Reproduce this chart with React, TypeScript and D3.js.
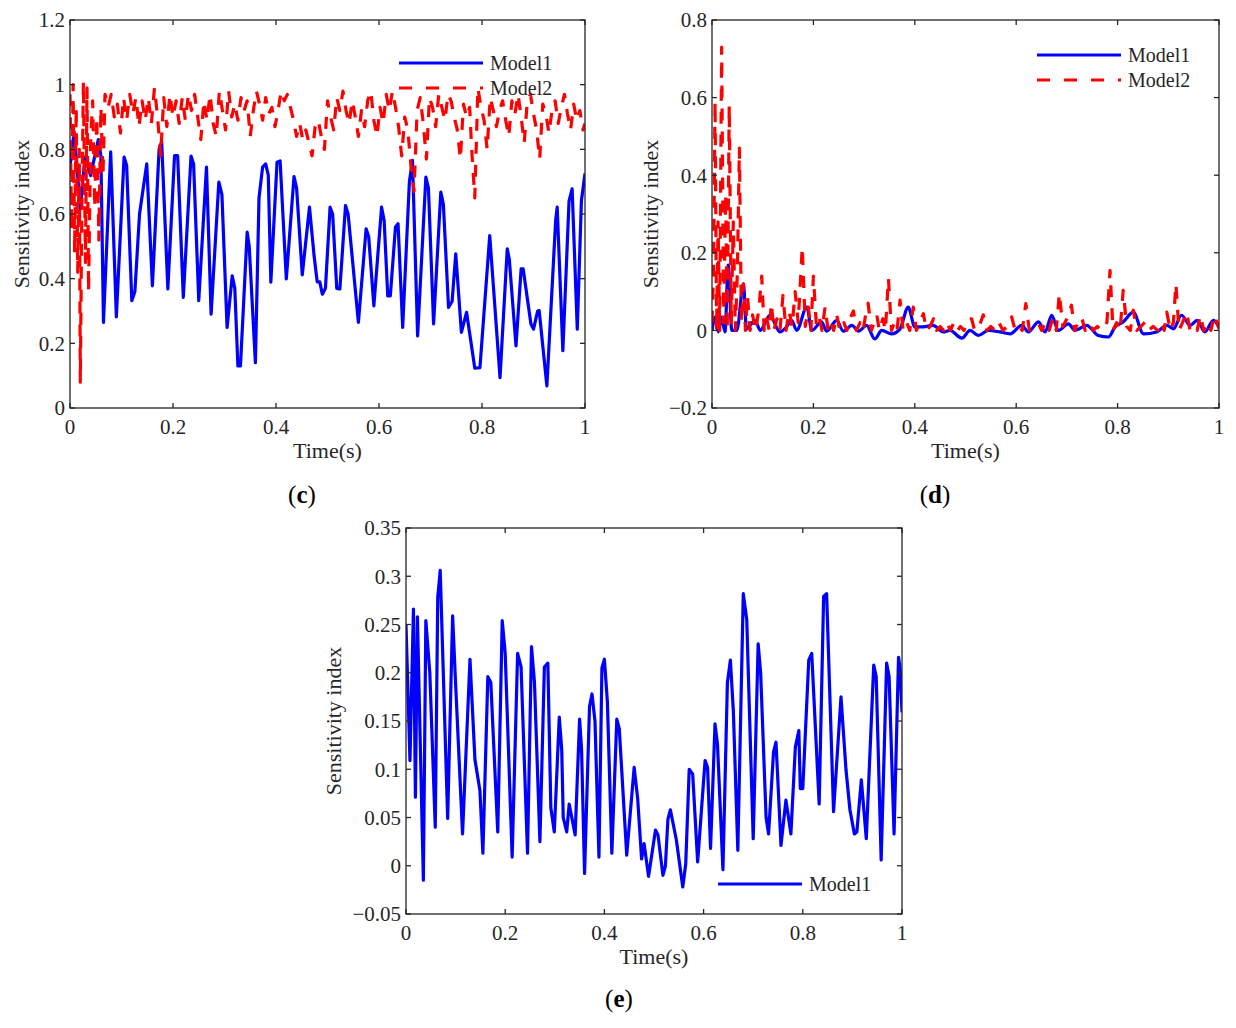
import React from 'react';
import * as d3 from 'd3';

type Pt = [number, number];

// tick values
const xTicks = [0, 0.2, 0.4, 0.6, 0.8, 1];
const cYTicks = [0, 0.2, 0.4, 0.6, 0.8, 1, 1.2];
const dYTicks = [-0.2, 0, 0.2, 0.4, 0.6, 0.8];
const eYTicks = [-0.05, 0, 0.05, 0.1, 0.15, 0.2, 0.25, 0.3, 0.35];
const seriesNames = ['Model1', 'Model2'];

// panel (c) — [time, index]
const cModel1: Pt[] = [
  [0, 0.747], [0.008, 0.854], [0.02, 0.616], [0.029, 0.776], [0.04, 0.719], [0.055, 0.83], [0.06, 0.78],
  [0.065, 0.265], [0.079, 0.792], [0.09, 0.282], [0.105, 0.776], [0.11, 0.75], [0.12, 0.332], [0.126, 0.36],
  [0.135, 0.6], [0.149, 0.755], [0.16, 0.378], [0.173, 0.8], [0.178, 0.823], [0.19, 0.368], [0.203, 0.781],
  [0.209, 0.781], [0.22, 0.342], [0.235, 0.779], [0.24, 0.755], [0.25, 0.332], [0.265, 0.745], [0.274, 0.29],
  [0.289, 0.699], [0.295, 0.66], [0.305, 0.249], [0.315, 0.409], [0.32, 0.37], [0.326, 0.13], [0.331, 0.13],
  [0.344, 0.544], [0.348, 0.5], [0.36, 0.14], [0.367, 0.65], [0.374, 0.745], [0.38, 0.755], [0.385, 0.72],
  [0.39, 0.389], [0.402, 0.76], [0.408, 0.764], [0.42, 0.399], [0.435, 0.716], [0.44, 0.68], [0.451, 0.412],
  [0.465, 0.621], [0.474, 0.47], [0.48, 0.39], [0.485, 0.39], [0.49, 0.352], [0.496, 0.37], [0.505, 0.621],
  [0.51, 0.6], [0.518, 0.37], [0.524, 0.368], [0.535, 0.626], [0.54, 0.6], [0.56, 0.265], [0.575, 0.554],
  [0.58, 0.53], [0.59, 0.316], [0.605, 0.621], [0.61, 0.58], [0.617, 0.347], [0.622, 0.347], [0.632, 0.56],
  [0.637, 0.57], [0.646, 0.249], [0.659, 0.7], [0.665, 0.766], [0.675, 0.223], [0.691, 0.714], [0.696, 0.68],
  [0.706, 0.26], [0.72, 0.668], [0.725, 0.63], [0.735, 0.311], [0.742, 0.33], [0.749, 0.477], [0.76, 0.234],
  [0.77, 0.296], [0.786, 0.123], [0.796, 0.125], [0.815, 0.533], [0.835, 0.094], [0.849, 0.492], [0.853, 0.46],
  [0.866, 0.192], [0.876, 0.43], [0.88, 0.43], [0.895, 0.26], [0.9, 0.244], [0.908, 0.3], [0.911, 0.301],
  [0.926, 0.068], [0.943, 0.58], [0.946, 0.621], [0.957, 0.177], [0.969, 0.64], [0.975, 0.678], [0.985, 0.244],
  [0.993, 0.64], [1, 0.725],
];

const cModel2: Pt[] = [
  [0, 0.97], [0.003, 0.55], [0.006, 1.0], [0.009, 0.48], [0.012, 0.93], [0.015, 0.42], [0.018, 0.8],
  [0.02, 0.08], [0.023, 0.62], [0.026, 1.01], [0.03, 0.45], [0.033, 0.99], [0.036, 0.36], [0.04, 0.82],
  [0.044, 0.95], [0.048, 0.62], [0.052, 0.9], [0.056, 0.52], [0.06, 0.93], [0.064, 0.72], [0.068, 0.97],
  [0.074, 0.93], [0.08, 0.97], [0.086, 0.9], [0.092, 0.94], [0.098, 0.85], [0.104, 0.96], [0.11, 0.89],
  [0.116, 0.97], [0.122, 0.91], [0.128, 0.96], [0.134, 0.87], [0.14, 0.95], [0.146, 0.89], [0.152, 0.96],
  [0.158, 0.88], [0.164, 0.99], [0.17, 0.9], [0.176, 0.78], [0.182, 0.96], [0.188, 0.87], [0.194, 0.97],
  [0.2, 0.9], [0.206, 0.95], [0.212, 0.88], [0.218, 0.96], [0.224, 0.89], [0.23, 0.97], [0.236, 0.92],
  [0.242, 0.97], [0.248, 0.9], [0.254, 0.83], [0.26, 0.95], [0.266, 0.89], [0.272, 0.97], [0.278, 0.88],
  [0.284, 0.84], [0.29, 0.98], [0.296, 0.92], [0.302, 0.86], [0.308, 0.98], [0.314, 0.9], [0.32, 0.94],
  [0.326, 0.89], [0.332, 0.96], [0.338, 0.92], [0.344, 0.95], [0.35, 0.84], [0.356, 0.92], [0.362, 0.98],
  [0.368, 0.94], [0.374, 0.89], [0.38, 0.96], [0.386, 0.91], [0.392, 0.93], [0.398, 0.87], [0.404, 0.92],
  [0.41, 0.98], [0.416, 0.95], [0.422, 0.97], [0.428, 0.93], [0.434, 0.89], [0.44, 0.84], [0.446, 0.88],
  [0.452, 0.83], [0.458, 0.86], [0.464, 0.82], [0.47, 0.78], [0.476, 0.87], [0.482, 0.89], [0.488, 0.84],
  [0.494, 0.8], [0.5, 0.95], [0.506, 0.9], [0.512, 0.86], [0.518, 0.96], [0.524, 0.92], [0.53, 0.98],
  [0.536, 0.92], [0.542, 0.88], [0.548, 0.95], [0.554, 0.9], [0.56, 0.84], [0.566, 0.92], [0.572, 0.87],
  [0.578, 0.95], [0.584, 0.98], [0.59, 0.89], [0.596, 0.84], [0.602, 0.93], [0.608, 0.88], [0.614, 0.97],
  [0.62, 0.92], [0.626, 0.98], [0.632, 0.93], [0.638, 0.87], [0.644, 0.78], [0.65, 0.9], [0.656, 0.86],
  [0.662, 0.75], [0.668, 0.67], [0.674, 0.92], [0.68, 0.96], [0.686, 0.88], [0.692, 0.77], [0.698, 0.96],
  [0.704, 0.93], [0.71, 0.87], [0.716, 0.97], [0.722, 0.93], [0.728, 0.89], [0.734, 0.97], [0.74, 0.95],
  [0.746, 0.9], [0.752, 0.86], [0.758, 0.77], [0.764, 0.94], [0.77, 0.9], [0.776, 0.93], [0.78, 0.8],
  [0.786, 0.65], [0.792, 0.99], [0.798, 0.93], [0.804, 0.89], [0.81, 0.8], [0.816, 0.96], [0.822, 0.92],
  [0.828, 0.87], [0.834, 0.92], [0.84, 0.95], [0.846, 0.89], [0.852, 0.84], [0.858, 0.95], [0.864, 0.91],
  [0.87, 0.97], [0.876, 0.9], [0.882, 0.82], [0.888, 0.95], [0.894, 0.97], [0.9, 0.91], [0.906, 0.86],
  [0.912, 0.77], [0.918, 0.94], [0.924, 0.91], [0.93, 0.85], [0.936, 0.92], [0.942, 0.95], [0.948, 0.88],
  [0.954, 0.93], [0.96, 0.97], [0.966, 0.91], [0.972, 0.86], [0.978, 0.94], [0.984, 0.89], [0.99, 0.92],
  [0.996, 0.86], [1, 0.88],
];

// panel (d)
const dModel1: Pt[] = [
  [0, 0], [0.006, 0.034], [0.0125, -0.004], [0.019, 0.034], [0.0256, -0.004], [0.032, 0.168], [0.039, 0],
  [0.049, 0], [0.062, 0.12], [0.068, 0.004], [0.085, 0.026], [0.095, 0], [0.114, 0.039], [0.134, -0.004],
  [0.147, 0.009], [0.157, 0.026], [0.167, 0], [0.187, 0.06], [0.197, 0], [0.216, 0.022], [0.226, -0.002],
  [0.246, 0.026], [0.259, -0.002], [0.276, 0.013], [0.289, -0.002], [0.305, 0.013], [0.321, -0.022],
  [0.335, 0], [0.354, -0.009], [0.371, 0.004], [0.387, 0.06], [0.4, 0.009], [0.417, 0.009], [0.436, 0.013],
  [0.456, -0.004], [0.469, 0], [0.493, -0.02], [0.509, 0], [0.525, -0.013], [0.545, 0], [0.568, -0.004],
  [0.588, -0.009], [0.611, 0.013], [0.624, -0.004], [0.644, 0.022], [0.657, -0.004], [0.67, 0.039],
  [0.683, 0], [0.703, 0.017], [0.716, 0], [0.739, 0.013], [0.762, -0.013], [0.782, -0.017], [0.795, 0.009],
  [0.811, 0.022], [0.831, 0.047], [0.851, -0.009], [0.877, -0.004], [0.897, 0.013], [0.91, 0.004],
  [0.926, 0.039], [0.943, 0.013], [0.957, 0.026], [0.972, -0.004], [0.989, 0.026], [1, 0.009],
];

const dModel2: Pt[] = [
  [0, 0.02], [0.003, 0.15], [0.006, 0.59], [0.009, 0], [0.012, 0.28], [0.015, 0], [0.019, 0.73],
  [0.023, 0.02], [0.027, 0.35], [0.03, 0], [0.034, 0.58], [0.038, 0.02], [0.042, 0.28], [0.046, 0],
  [0.05, 0.15], [0.054, 0.47], [0.058, 0.02], [0.062, 0.12], [0.066, 0], [0.07, 0.09], [0.075, 0],
  [0.08, 0.04], [0.086, 0], [0.092, 0.05], [0.098, 0.14], [0.103, 0], [0.108, 0.03], [0.113, 0],
  [0.117, 0.07], [0.122, 0], [0.128, 0.03], [0.134, 0], [0.14, 0.09], [0.146, 0], [0.152, 0.05],
  [0.158, 0.01], [0.164, 0.1], [0.17, 0.02], [0.178, 0.215], [0.184, 0.01], [0.19, 0.06], [0.195, 0],
  [0.2, 0.14], [0.206, 0.01], [0.212, 0.03], [0.217, 0], [0.223, 0.06], [0.229, 0], [0.235, 0.02],
  [0.24, 0], [0.246, 0.04], [0.252, 0], [0.26, 0.02], [0.266, 0], [0.272, 0.03], [0.279, 0.05],
  [0.285, 0], [0.292, 0.02], [0.298, 0], [0.303, 0.04], [0.308, 0.07], [0.314, 0], [0.32, 0.02],
  [0.325, 0.04], [0.33, 0], [0.337, 0.03], [0.342, 0], [0.348, 0.134], [0.354, 0], [0.36, 0.02],
  [0.365, 0], [0.371, 0.078], [0.377, 0], [0.384, 0.02], [0.39, 0], [0.397, 0.06], [0.403, 0],
  [0.41, 0.02], [0.417, 0.043], [0.423, 0], [0.43, 0.01], [0.437, 0.03], [0.443, 0], [0.45, 0.01],
  [0.457, 0], [0.464, 0.02], [0.47, 0], [0.477, 0.02], [0.484, 0], [0.49, 0.01], [0.497, 0],
  [0.506, 0.03], [0.512, 0.03], [0.518, 0], [0.527, 0.01], [0.535, 0.04], [0.542, 0], [0.55, 0.01],
  [0.558, 0], [0.566, 0.02], [0.574, 0], [0.582, 0.01], [0.591, 0.035], [0.598, 0], [0.605, 0.01],
  [0.612, 0], [0.619, 0.069], [0.626, 0], [0.634, 0.01], [0.644, 0.017], [0.65, 0], [0.658, 0.02],
  [0.665, 0], [0.672, 0.03], [0.679, 0], [0.685, 0.095], [0.692, 0.01], [0.7, 0.03], [0.709, 0.065],
  [0.715, 0], [0.722, 0.02], [0.729, 0.034], [0.736, 0], [0.746, 0.017], [0.752, 0], [0.76, 0.01],
  [0.768, 0], [0.779, 0.021], [0.785, 0.155], [0.791, 0], [0.798, 0.02], [0.805, 0], [0.811, 0.103],
  [0.818, 0.01], [0.825, 0], [0.831, 0.052], [0.838, 0], [0.846, 0.01], [0.854, 0.021], [0.861, 0],
  [0.87, 0.01], [0.879, 0], [0.887, 0.021], [0.892, 0], [0.897, 0.047], [0.904, 0], [0.91, 0.02],
  [0.915, 0.12], [0.921, 0], [0.928, 0.02], [0.936, 0.047], [0.943, 0], [0.95, 0.01], [0.957, 0],
  [0.963, 0.039], [0.97, 0], [0.978, 0.02], [0.984, 0], [0.991, 0.039], [1, 0.004],
];

// panel (e)
const eModel1: Pt[] = [
  [0, 0.25], [0.008, 0.109], [0.015, 0.266], [0.019, 0.071], [0.023, 0.258], [0.035, -0.015], [0.04, 0.254],
  [0.048, 0.2], [0.059, 0.04], [0.064, 0.278], [0.069, 0.306], [0.084, 0.049], [0.094, 0.259], [0.099, 0.2],
  [0.114, 0.033], [0.129, 0.214], [0.139, 0.11], [0.149, 0.078], [0.155, 0.013], [0.165, 0.196],
  [0.171, 0.19], [0.185, 0.035], [0.194, 0.254], [0.2, 0.22], [0.214, 0.009], [0.225, 0.22], [0.232, 0.206],
  [0.245, 0.013], [0.253, 0.227], [0.259, 0.19], [0.27, 0.025], [0.279, 0.206], [0.286, 0.21], [0.292, 0.06],
  [0.299, 0.035], [0.309, 0.154], [0.314, 0.12], [0.317, 0.05], [0.324, 0.035], [0.329, 0.064],
  [0.341, 0.032], [0.35, 0.152], [0.354, 0.12], [0.36, -0.008], [0.37, 0.165], [0.375, 0.178], [0.381, 0.15],
  [0.389, 0.009], [0.395, 0.205], [0.4, 0.214], [0.406, 0.17], [0.415, 0.013], [0.425, 0.152], [0.43, 0.142],
  [0.445, 0.011], [0.46, 0.102], [0.467, 0.07], [0.475, 0.007], [0.48, 0.023], [0.489, -0.011],
  [0.503, 0.037], [0.508, 0.032], [0.518, -0.01], [0.523, 0], [0.528, 0.048], [0.533, 0.058], [0.545, 0.027],
  [0.558, -0.022], [0.564, 0.002], [0.571, 0.1], [0.578, 0.095], [0.588, 0.004], [0.603, 0.109],
  [0.608, 0.102], [0.614, 0.018], [0.623, 0.147], [0.628, 0.126], [0.639, -0.004], [0.648, 0.19],
  [0.654, 0.213], [0.66, 0.16], [0.669, 0.016], [0.68, 0.282], [0.687, 0.255], [0.7, 0.028], [0.71, 0.23],
  [0.715, 0.2], [0.726, 0.05], [0.731, 0.033], [0.741, 0.118], [0.746, 0.128], [0.756, 0.021], [0.766, 0.068],
  [0.776, 0.033], [0.785, 0.123], [0.792, 0.14], [0.795, 0.08], [0.8, 0.08], [0.812, 0.213], [0.818, 0.22],
  [0.833, 0.064], [0.842, 0.279], [0.848, 0.282], [0.862, 0.056], [0.877, 0.175], [0.887, 0.1],
  [0.895, 0.058], [0.904, 0.033], [0.909, 0.035], [0.918, 0.089], [0.928, 0.028], [0.943, 0.208],
  [0.948, 0.196], [0.958, 0.006], [0.969, 0.21], [0.974, 0.196], [0.984, 0.033], [0.993, 0.216],
  [0.996, 0.205], [1, 0.159],
];

const FONT = '"Liberation Serif", "Times New Roman", serif';
const AXIS = '#262626';
const BLUE = '#0000ff';
const RED = '#ff0000';
const DASH = '12,11';

interface Series {
  name: string;
  data: Pt[];
  color: string;
  dashed?: boolean;
  smooth?: boolean;
}

interface PanelProps {
  id: string;
  left: number;
  right: number;
  top: number;
  bottom: number;
  yDomain: [number, number];
  yTicks: number[];
  series: Series[];
  legendX: number;
  legendY: number;
  yLabelX: number;
  tag: string;
  tagX: number;
  tagY: number;
}

const fmt = d3.format('~g');

const Panel: React.FC<PanelProps> = (p) => {
  const x = d3.scaleLinear().domain([0, 1]).range([p.left, p.right]);
  const y = d3.scaleLinear().domain(p.yDomain).range([p.bottom, p.top]);
  const makeLine = (smooth?: boolean) => d3.line<Pt>()
    .x((d) => x(d[0]))
    .y((d) => y(d[1]))
    .curve(smooth ? d3.curveMonotoneX : d3.curveLinear);
  const tl = 5;

  return (
    <g fontFamily={FONT} fill={AXIS}>
      <defs>
        <clipPath id={`clip-${p.id}`}>
          <rect x={p.left} y={p.top} width={p.right - p.left} height={p.bottom - p.top} />
        </clipPath>
      </defs>

      <g clipPath={`url(#clip-${p.id})`}>
        {p.series.map((s) => (
          <path
            key={s.name}
            d={makeLine(s.smooth)(s.data) || ''}
            fill="none"
            stroke={s.color}
            strokeWidth={3.2}
            strokeLinejoin="round"
            strokeDasharray={s.dashed ? DASH : undefined}
          />
        ))}
      </g>

      {/* box and inward ticks */}
      <rect x={p.left} y={p.top} width={p.right - p.left} height={p.bottom - p.top}
        fill="none" stroke={AXIS} strokeWidth={1.3} />
      {xTicks.map((t) => (
        <g key={`xt${t}`} stroke={AXIS} strokeWidth={1.3}>
          <line x1={x(t)} x2={x(t)} y1={p.bottom} y2={p.bottom - tl} />
          <line x1={x(t)} x2={x(t)} y1={p.top} y2={p.top + tl} />
        </g>
      ))}
      {p.yTicks.map((t) => (
        <g key={`yt${t}`} stroke={AXIS} strokeWidth={1.3}>
          <line x1={p.left} x2={p.left + tl} y1={y(t)} y2={y(t)} />
          <line x1={p.right} x2={p.right - tl} y1={y(t)} y2={y(t)} />
        </g>
      ))}

      {xTicks.map((t) => (
        <text key={`xl${t}`} x={x(t)} y={p.bottom + 26} fontSize={21} textAnchor="middle">
          {fmt(t)}
        </text>
      ))}
      {p.yTicks.map((t) => (
        <text key={`yl${t}`} x={p.left - 5} y={y(t)} dy="0.35em" fontSize={21} textAnchor="end">
          {fmt(t)}
        </text>
      ))}

      <text x={(p.left + p.right) / 2} y={p.bottom + 50} fontSize={22} textAnchor="middle">
        Time(s)
      </text>
      <text
        transform={`translate(${p.yLabelX},${(p.top + p.bottom) / 2}) rotate(-90)`}
        fontSize={22}
        textAnchor="middle"
      >
        Sensitivity index
      </text>

      {/* legend, no box */}
      {p.series.map((s, i) => (
        <g key={`lg${s.name}`}>
          <line
            x1={p.legendX - 91}
            x2={p.legendX - 7}
            y1={p.legendY + i * 25}
            y2={p.legendY + i * 25}
            stroke={s.color}
            strokeWidth={3}
            strokeDasharray={s.dashed ? '13,14' : undefined}
          />
          <text x={p.legendX} y={p.legendY + i * 25 + 7} fontSize={20}>
            {s.name}
          </text>
        </g>
      ))}

      <text x={p.tagX} y={p.tagY} fontSize={25} textAnchor="middle" fill="#000">
        (<tspan fontWeight="bold">{p.tag}</tspan>)
      </text>
    </g>
  );
};

export default function App() {
  return (
    <svg
      width={1236}
      height={1028}
      style={{ position: 'absolute', left: 0, top: 0, background: '#fff' }}
    >
      <Panel
        id="c"
        left={70}
        right={585}
        top={20}
        bottom={408}
        yDomain={[0, 1.2]}
        yTicks={cYTicks}
        series={[
          { name: seriesNames[0], data: cModel1, color: BLUE },
          { name: seriesNames[1], data: cModel2, color: RED, dashed: true },
        ]}
        legendX={490}
        legendY={63}
        yLabelX={29}
        tag="c"
        tagX={302}
        tagY={503}
      />
      <Panel
        id="d"
        left={712}
        right={1219}
        top={20}
        bottom={408}
        yDomain={[-0.2, 0.8]}
        yTicks={dYTicks}
        series={[
          { name: seriesNames[0], data: dModel1, color: BLUE, smooth: true },
          { name: seriesNames[1], data: dModel2, color: RED, dashed: true },
        ]}
        legendX={1128}
        legendY={55}
        yLabelX={658}
        tag="d"
        tagX={935}
        tagY={503}
      />
      <Panel
        id="e"
        left={406}
        right={902}
        top={528}
        bottom={914}
        yDomain={[-0.05, 0.35]}
        yTicks={eYTicks}
        series={[{ name: seriesNames[0], data: eModel1, color: BLUE }]}
        legendX={809}
        legendY={884}
        yLabelX={341}
        tag="e"
        tagX={619}
        tagY={1007}
      />
    </svg>
  );
}
